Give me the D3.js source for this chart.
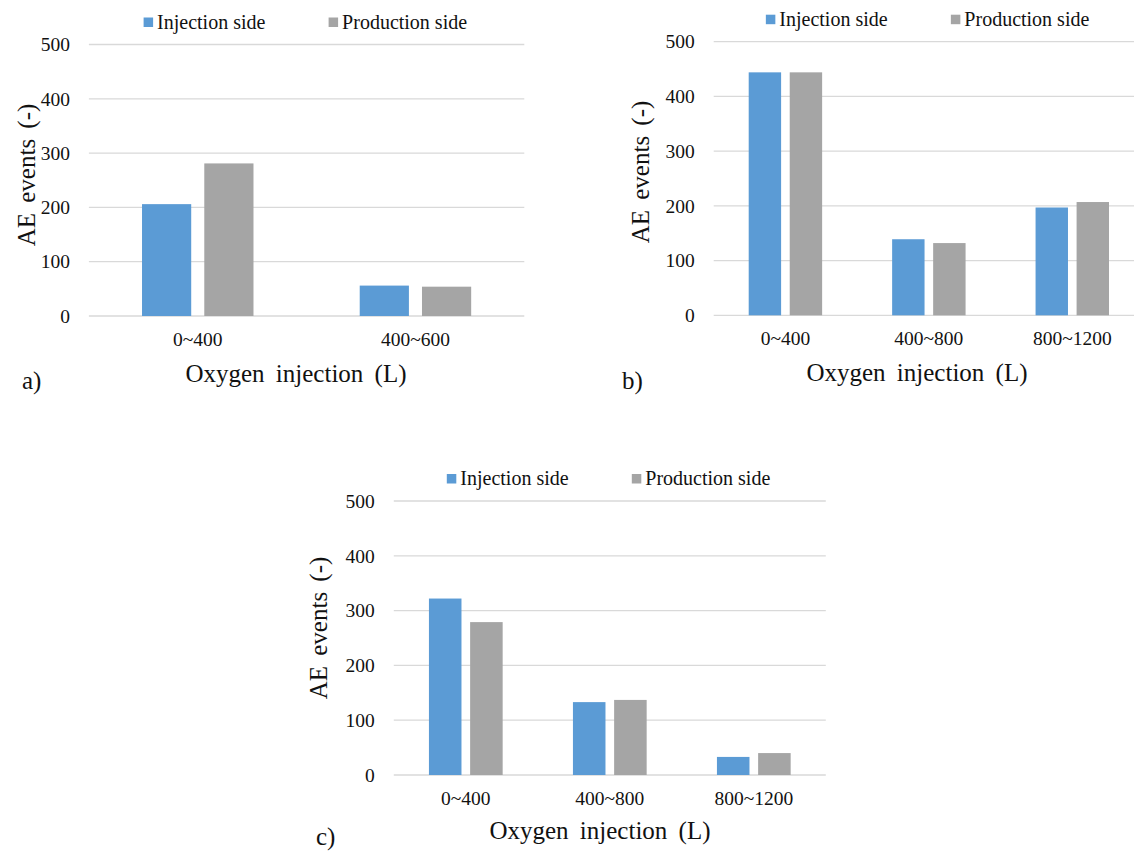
<!DOCTYPE html>
<html>
<head>
<meta charset="utf-8">
<script src="https://cdn.jsdelivr.net/npm/d3@7/dist/d3.min.js"></script>
<style>
  html, body { margin: 0; padding: 0; background: #fff; overflow: hidden; }
  svg { display: block; }
  svg text { font-family: 'Liberation Serif', Tinos, 'Times New Roman', Times, 'DejaVu Serif', serif !important; fill: #111; }
</style>
</head>
<body>
<svg id="chart" width="1134" height="853"></svg>
<script>
// ---- Data ----
const seriesNames = ["Injection side", "Production side"];
const seriesColors = ["#5B9BD5", "#A5A5A5"];
const yTicks = [0, 100, 200, 300, 400, 500];

const categoriesA = ["0~400", "400~600"];
const injectionA = [206, 56];
const productionA = [281, 54];

const categoriesB = ["0~400", "400~800", "800~1200"];
const injectionB = [444, 139, 197];
const productionB = [444, 132, 207];

const categoriesC = ["0~400", "400~800", "800~1200"];
const injectionC = [322, 133, 33];
const productionC = [279, 137, 40];

// ---- Layout per panel ----
const panels = [
  { cats: categoriesA, inj: injectionA, prod: productionA,
    x0: 88.9, x1: 524.3, y0: 316, y1: 44.5,
    label: "a)", labelX: 22, labelY: 389,
    xTitleX: 296, xTitleY: 382, yTitleX: 26, yTitleY: 175 },
  { cats: categoriesB, inj: injectionB, prod: productionB,
    x0: 713.7, x1: 1144, y0: 315.3, y1: 41.7,
    label: "b)", labelX: 622, labelY: 389,
    xTitleX: 917, xTitleY: 381, yTitleX: 640, yTitleY: 172 },
  { cats: categoriesC, inj: injectionC, prod: productionC,
    x0: 393.8, x1: 825.8, y0: 775, y1: 501,
    label: "c)", labelX: 316, labelY: 845,
    xTitleX: 600, xTitleY: 839, yTitleX: 318, yTitleY: 628 }
];

const FONT = "'Liberation Serif', Tinos, 'Times New Roman', Times, 'DejaVu Serif', serif";
const svg = d3.select("#chart");

panels.forEach(p => {
  const g = svg.append("g").attr("font-family", FONT);
  const x = d3.scaleBand().domain(p.cats).range([p.x0, p.x1]).padding(0);
  const y = d3.scaleLinear().domain([0, 500]).range([p.y0, p.y1]);
  const groupW = x.bandwidth() * 0.512;
  const x1 = d3.scaleBand().domain(seriesNames).range([0, groupW]).paddingInner(0.21);

  // gridlines
  g.append("g").selectAll("line").data(yTicks).join("line")
    .attr("x1", p.x0).attr("x2", p.x1)
    .attr("y1", d => y(d)).attr("y2", d => y(d))
    .attr("stroke", "#D9D9D9").attr("stroke-width", 1.3);

  // y axis labels
  const yAxis = d3.axisLeft(y).tickValues(yTicks).tickSize(0).tickPadding(19);
  const ya = g.append("g").attr("transform", `translate(${p.x0},0)`).call(yAxis)
    .attr("font-family", FONT).attr("font-size", 19.5);
  ya.select(".domain").remove();
  ya.selectAll("text").attr("fill", "#111");

  // x axis labels
  const xAxis = d3.axisBottom(x).tickSize(0).tickPadding(16);
  const xa = g.append("g").attr("transform", `translate(0,${p.y0})`).call(xAxis)
    .attr("font-family", FONT).attr("font-size", 19.5);
  xa.select(".domain").remove();
  xa.selectAll("text").attr("fill", "#111");

  // bars
  const rows = p.cats.map((c, i) => ({ cat: c, vals: [p.inj[i], p.prod[i]] }));
  const grp = g.append("g").selectAll("g").data(rows).join("g")
    .attr("transform", d => `translate(${x(d.cat) + (x.bandwidth() - groupW) / 2},0)`);
  grp.selectAll("rect").data(d => d.vals.map((v, k) => ({ s: seriesNames[k], v, k })))
    .join("rect")
    .attr("x", d => x1(d.s))
    .attr("width", x1.bandwidth())
    .attr("y", d => y(d.v))
    .attr("height", d => y(0) - y(d.v))
    .attr("fill", d => seriesColors[d.k]);

  // legend
  const cx = (p.x0 + p.x1) / 2;
  const lg = g.append("g");
  const legY = p.y1 - 16;
  seriesNames.forEach((s, k) => {
    const lx = cx - 163 + k * 185;
    lg.append("rect").attr("x", lx).attr("y", legY - 11).attr("width", 9.5).attr("height", 9.5)
      .attr("fill", seriesColors[k]);
    lg.append("text").attr("x", lx + 13.5).attr("y", legY)
      .attr("font-size", 20).text(s);
  });

  // axis titles
  g.append("text").attr("x", p.xTitleX).attr("y", p.xTitleY)
    .attr("text-anchor", "middle").attr("font-size", 25).style("word-spacing", "5px")
    .text("Oxygen injection (L)");
  g.append("text")
    .attr("transform", `translate(${p.yTitleX},${p.yTitleY}) rotate(-90)`)
    .attr("text-anchor", "middle").attr("dy", "0.35em")
    .attr("font-size", 25).style("word-spacing", "4px")
    .text("AE events (-)");

  // panel label
  g.append("text").attr("x", p.labelX).attr("y", p.labelY)
    .attr("font-size", 25).text(p.label);
});
</script>
</body>
</html>
